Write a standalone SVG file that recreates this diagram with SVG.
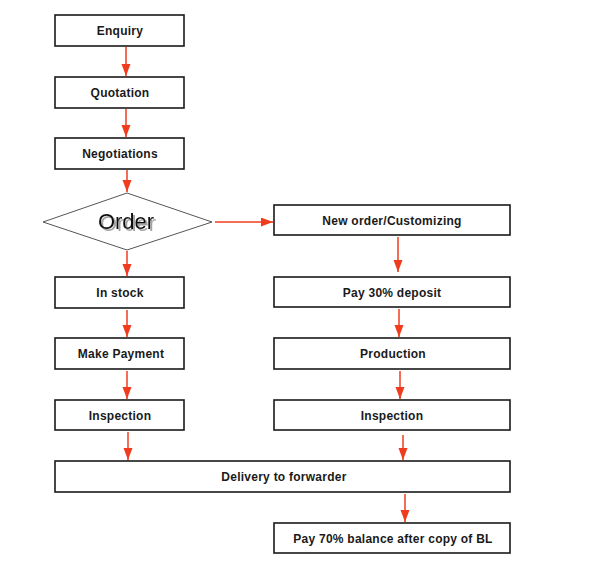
<svg xmlns="http://www.w3.org/2000/svg" width="600" height="562" viewBox="0 0 600 562">
<defs>
<marker id="ah" markerWidth="12" markerHeight="10" refX="12" refY="4.5" orient="auto" markerUnits="userSpaceOnUse">
<path d="M0,0 L12,4.5 L0,9 Z" fill="#f03c1e"/>
</marker>
<filter id="sh" x="-10%" y="-10%" width="130%" height="140%">
<feDropShadow dx="2" dy="2" stdDeviation="0.6" flood-color="#999" flood-opacity="0.9"/>
</filter>
</defs>
<style>
.box{fill:#fff;stroke:#1a1a1a;stroke-width:1.6}
.t{font-family:"Liberation Sans",Arial,sans-serif;font-size:12px;font-weight:bold;fill:#1a1a1a;text-anchor:middle;letter-spacing:0.25px}
.c{stroke:#f03c1e;stroke-width:1.5;fill:none;marker-end:url(#ah)}
</style>
<rect width="600" height="562" fill="#fff"/>
<g id="enquiry"><rect class="box" x="55" y="15" width="129" height="31"/><text class="t" x="120" y="35">Enquiry</text></g>
<g id="quotation"><rect class="box" x="55" y="77" width="129" height="31"/><text class="t" x="120" y="97">Quotation</text></g>
<g id="negotiations"><rect class="box" x="55" y="138" width="129" height="31"/><text class="t" x="120" y="158">Negotiations</text></g>
<g id="order"><polygon points="127,193 212,222 127,250 43,222" fill="#fff" stroke="#555" stroke-width="1"/>
<text x="126" y="229" font-family="Liberation Sans,Arial,sans-serif" font-size="22" fill="#111" text-anchor="middle" filter="url(#sh)">Order</text></g>
<g id="newOrder"><rect class="box" x="274" y="205" width="236" height="30"/><text class="t" x="392" y="225">New order/Customizing</text></g>
<g id="inStock"><rect class="box" x="55" y="277" width="129" height="31"/><text class="t" x="120" y="297">In stock</text></g>
<g id="deposit"><rect class="box" x="274" y="277" width="236" height="30"/><text class="t" x="392" y="297">Pay 30% deposit</text></g>
<g id="makePayment"><rect class="box" x="55" y="338" width="129" height="31"/><text class="t" x="121" y="358">Make Payment</text></g>
<g id="production"><rect class="box" x="274" y="338" width="236" height="31"/><text class="t" x="393" y="358">Production</text></g>
<g id="inspection1"><rect class="box" x="55" y="400" width="129" height="30"/><text class="t" x="120" y="420">Inspection</text></g>
<g id="inspection2"><rect class="box" x="274" y="400" width="236" height="30"/><text class="t" x="392" y="420">Inspection</text></g>
<g id="delivery"><rect class="box" x="55" y="461" width="455" height="31"/><text class="t" x="284" y="481">Delivery to forwarder</text></g>
<g id="balance"><rect class="box" x="274" y="523" width="236" height="30"/><text class="t" x="393" y="543">Pay 70% balance after copy of BL</text></g>
<g id="connectors">
<line class="c" x1="126" y1="47" x2="126" y2="76"/>
<line class="c" x1="126" y1="109" x2="126" y2="137"/>
<line class="c" x1="127" y1="170" x2="127" y2="192"/>
<line class="c" x1="215" y1="222" x2="273" y2="222"/>
<line class="c" x1="127" y1="251" x2="127" y2="276"/>
<line class="c" x1="398" y1="237" x2="398" y2="272"/>
<line class="c" x1="127" y1="310" x2="127" y2="337"/>
<line class="c" x1="399" y1="309" x2="399" y2="337"/>
<line class="c" x1="127" y1="371" x2="127" y2="399"/>
<line class="c" x1="400" y1="371" x2="400" y2="399"/>
<line class="c" x1="128" y1="432" x2="128" y2="460"/>
<line class="c" x1="403" y1="435" x2="403" y2="460"/>
<line class="c" x1="405" y1="494" x2="405" y2="522"/>
</g>
</svg>
